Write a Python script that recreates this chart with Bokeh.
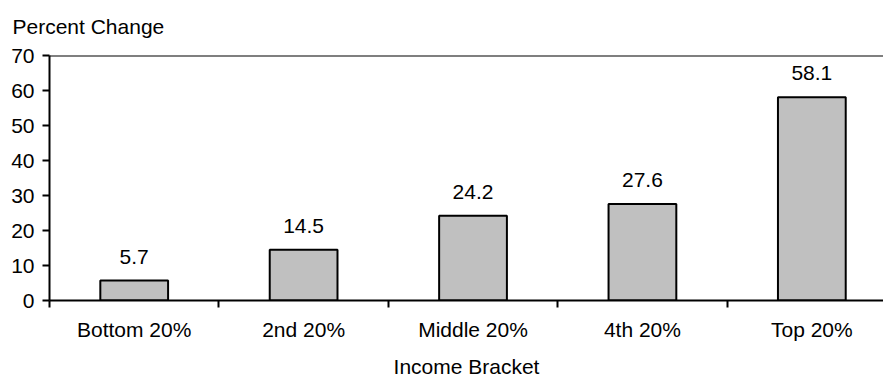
from bokeh.plotting import figure
from bokeh.models import (LinearAxis, FixedTicker, Range1d, ColumnDataSource,
                          LabelSet, Span)
from bokeh.core.properties import value
from bokeh.embed import file_html
from bokeh.resources import INLINE

categories = ["Bottom 20%", "2nd 20%", "Middle 20%", "4th 20%", "Top 20%"]
values = [5.7, 14.5, 24.2, 27.6, 58.1]
y_ticks = [0, 10, 20, 30, 40, 50, 60, 70]
y_title = "Percent Change"
x_title = "Income Bracket"

FONT = "Liberation Sans"
FS = "21px"

centers = [i + 0.5 for i in range(len(categories))]
boundaries = list(range(len(categories) + 1))
labels = [f"{v:.1f}" for v in values]

src = ColumnDataSource(dict(x=centers, top=values, label=labels))

p = figure(width=883, height=383, output_backend="svg", toolbar_location=None,
           x_axis_type=None, y_axis_type=None,
           x_range=Range1d(0, 4.923), y_range=Range1d(0, 70),
           min_border_left=49, min_border_right=0, min_border_top=55,
           min_border_bottom=83)
p.outline_line_color = None
p.background_fill_color = "white"
p.border_fill_color = "white"

p.title.text = y_title
p.title.align = "left"
p.title.offset = -37
p.title.text_font = FONT
p.title.text_font_size = FS
p.title.text_font_style = "normal"
p.title.text_color = "black"
p.title.standoff = 10
p.title.padding = dict(left=0, right=0, top=0, bottom=13)

p.vbar(x="x", top="top", width=0.4, bottom=0, source=src,
       fill_color="#C0C0C0", line_color="black", line_width=2)

p.add_layout(LabelSet(x="x", y="top", text="label", source=src,
                      text_align="center", text_baseline="alphabetic",
                      y_offset=17, text_font=value(FONT), text_font_size=value(FS),
                      text_color="black"))

p.add_layout(Span(location=70, dimension="width", line_color="black", line_width=2))

# y axis
ya = LinearAxis(ticker=FixedTicker(ticks=y_ticks))
ya.axis_line_color = "black"
ya.axis_line_width = 2
ya.major_tick_line_width = 2
ya.major_tick_out = 7
ya.major_tick_in = 0
ya.minor_tick_line_color = None
ya.major_label_standoff = 8
ya.major_label_text_font = FONT
ya.major_label_text_font_size = FS
ya.major_label_text_color = "black"
p.add_layout(ya, "left")

# x axis: line + boundary ticks
xa1 = LinearAxis(ticker=FixedTicker(ticks=boundaries))
xa1.axis_line_color = "black"
xa1.axis_line_width = 2
xa1.major_tick_line_width = 2
xa1.major_tick_out = 7
xa1.major_tick_in = 0
xa1.minor_tick_line_color = None
xa1.major_label_text_font_size = "1px"
xa1.major_label_standoff = 0
xa1.major_label_overrides = {b: "" for b in boundaries}
p.add_layout(xa1, "below")

# x axis: category labels
xa2 = LinearAxis(ticker=FixedTicker(ticks=centers))
xa2.axis_line_color = None
xa2.major_tick_line_color = None
xa2.minor_tick_line_color = None
xa2.major_tick_out = 0
xa2.major_tick_in = 0
xa2.major_label_standoff = 10
xa2.major_label_overrides = {c: n for c, n in zip(centers, categories)}
xa2.major_label_text_font = FONT
xa2.major_label_text_font_size = FS
xa2.major_label_text_color = "black"
xa2.axis_label = x_title
xa2.axis_label_standoff = 11
xa2.axis_label_text_font = FONT
xa2.axis_label_text_font_size = FS
xa2.axis_label_text_font_style = "normal"
xa2.axis_label_text_color = "black"
p.add_layout(xa2, "below")

open("out.html", "w").write(file_html(p, INLINE))
